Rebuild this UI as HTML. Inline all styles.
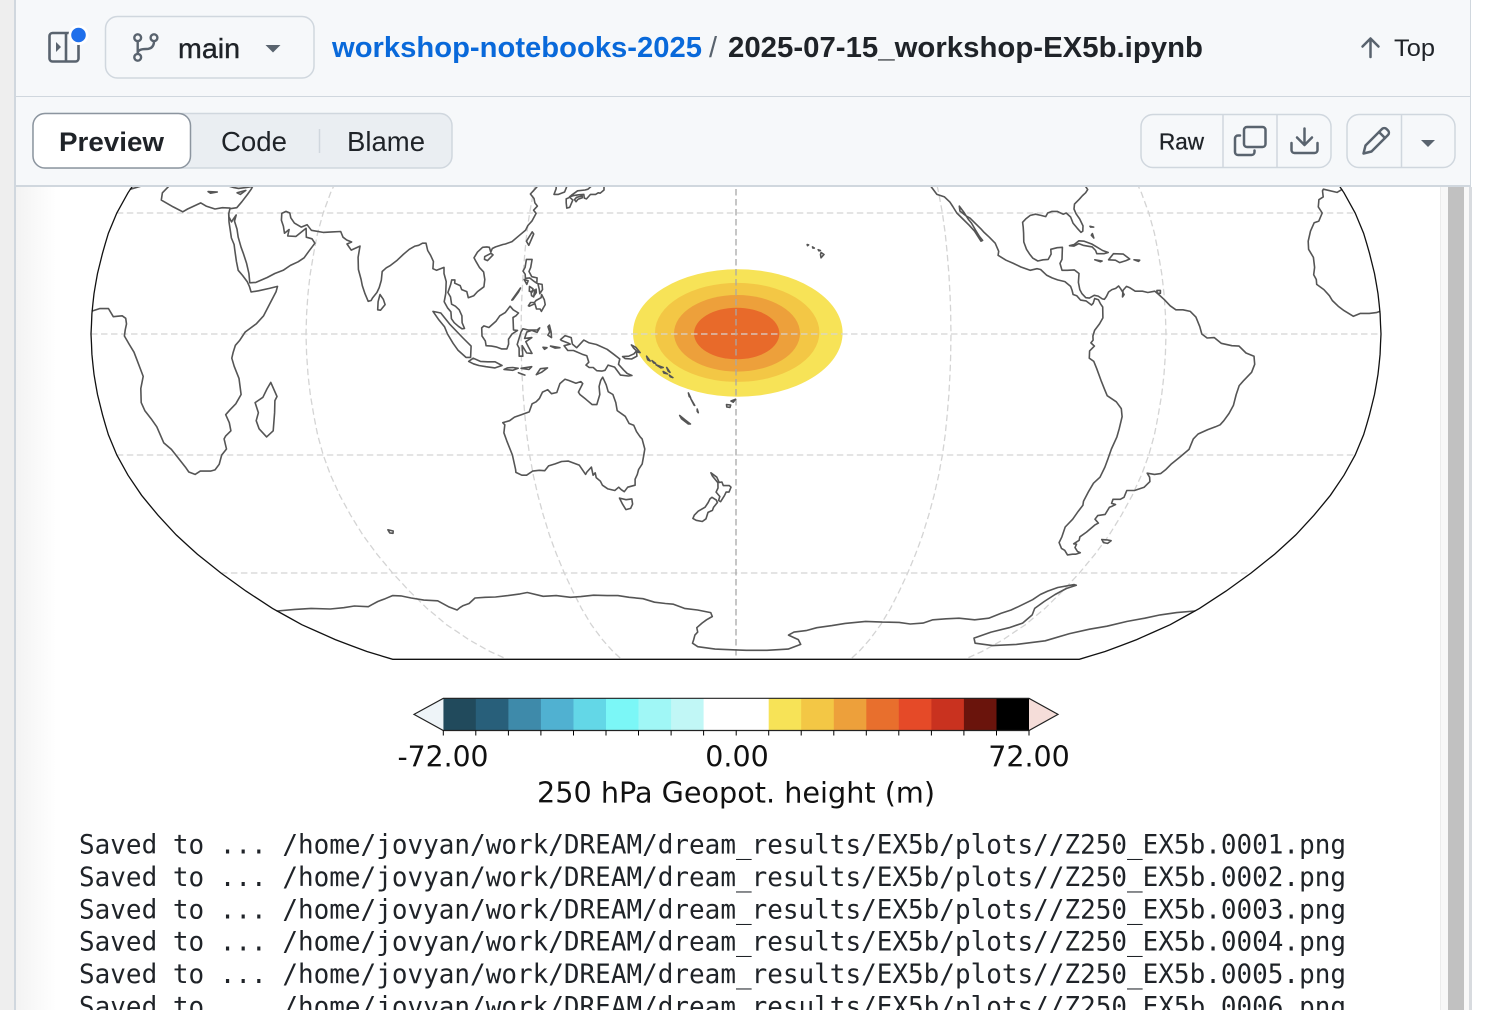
<!DOCTYPE html>
<html><head><meta charset="utf-8">
<style>
html,body{margin:0;padding:0;width:1498px;height:1010px;overflow:hidden;background:#fff;}
.abs{position:absolute;}
</style></head>
<body>
<div class="abs" style="left:0;top:0;width:14px;height:1010px;background:#eeeeee"></div>
<div class="abs" style="left:14px;top:0;width:2px;height:1010px;background:#d0d7de"></div>
<div class="abs" style="left:16px;top:187px;width:40px;height:823px;background:linear-gradient(to right,#f3f3f3,#ffffff)"></div>

<svg id="map" class="abs" style="left:0;top:0" width="1498" height="1010" xmlns="http://www.w3.org/2000/svg">
  <g id="fills">
    <ellipse cx="737.8" cy="333" rx="104.8" ry="63.7" fill="#f7e357"/>
    <ellipse cx="737.2" cy="332.4" rx="82.2" ry="49.5" fill="#f3c745"/>
    <ellipse cx="737" cy="333.3" rx="63" ry="38.3" fill="#eda03b"/>
    <ellipse cx="736.7" cy="333.5" rx="42.7" ry="25.8" fill="#e86a2a"/>
  </g>
  <g id="grid" fill="none" stroke="#d4d4d4" stroke-width="1.3" stroke-dasharray="6.5 3.5"></g>
  <line x1="736" y1="9" x2="736" y2="659.3" stroke="#a8a8a8" stroke-width="1.3" stroke-dasharray="6.5 3.5"/>
  <g id="coast" fill="none" stroke="#555555" stroke-width="1.6" stroke-linejoin="round" stroke-linecap="round"></g>
  <path id="outline" fill="none" stroke="#111" stroke-width="1.3"/>

  <!-- colorbar -->
  <g id="cbar"></g>
  <path d="M414,714.4 L443.3,698.3 L443.3,730.5 Z" fill="#eef4f8"/>
  <path d="M1058,714.4 L1029,698.3 L1029,730.5 Z" fill="#f5ddd9"/>
  <path d="M414,714.4 L443.3,698.3 L1029,698.3 L1058,714.4 L1029,730.5 L443.3,730.5 Z" fill="none" stroke="#222" stroke-width="1.2"/>
  <g id="ticks" stroke="#000" stroke-width="1"></g>
  <g font-family="DejaVu Sans, Liberation Sans, sans-serif" font-size="28.5" fill="#111" text-anchor="middle">
    <text x="443" y="766.5" textLength="91" lengthAdjust="spacingAndGlyphs">-72.00</text>
    <text x="737" y="766.5">0.00</text>
    <text x="1029" y="766.5">72.00</text>
    <text x="736" y="802.5" textLength="398" lengthAdjust="spacingAndGlyphs">250 hPa Geopot. height (m)</text>
  </g>
  <g font-family="DejaVu Sans Mono, Liberation Mono, monospace" font-size="26.3" fill="#1f2328">
    <text x="79" y="853.5" textLength="1267" lengthAdjust="spacingAndGlyphs">Saved to ... /home/jovyan/work/DREAM/dream_results/EX5b/plots//Z250_EX5b.0001.png</text>
    <text x="79" y="885.9" textLength="1267" lengthAdjust="spacingAndGlyphs">Saved to ... /home/jovyan/work/DREAM/dream_results/EX5b/plots//Z250_EX5b.0002.png</text>
    <text x="79" y="918.3" textLength="1267" lengthAdjust="spacingAndGlyphs">Saved to ... /home/jovyan/work/DREAM/dream_results/EX5b/plots//Z250_EX5b.0003.png</text>
    <text x="79" y="950.7" textLength="1267" lengthAdjust="spacingAndGlyphs">Saved to ... /home/jovyan/work/DREAM/dream_results/EX5b/plots//Z250_EX5b.0004.png</text>
    <text x="79" y="983.1" textLength="1267" lengthAdjust="spacingAndGlyphs">Saved to ... /home/jovyan/work/DREAM/dream_results/EX5b/plots//Z250_EX5b.0005.png</text>
    <text x="79" y="1015.5" textLength="1267" lengthAdjust="spacingAndGlyphs">Saved to ... /home/jovyan/work/DREAM/dream_results/EX5b/plots//Z250_EX5b.0006.png</text>
  </g>
</svg>

<!-- scrollbar -->
<div class="abs" style="left:1440px;top:187px;width:8px;height:823px;background:#f8f8f8;border-left:1px solid #ececec;box-sizing:border-box"></div>
<div class="abs" style="left:1448px;top:187px;width:16px;height:823px;background:#c1c1c1"></div>
<div class="abs" style="left:1464px;top:187px;width:5px;height:823px;background:#f8f8f8"></div>
<div class="abs" style="left:1469px;top:187px;width:3px;height:823px;background:#d8dbdf"></div>

<!-- header -->
<div class="abs" style="left:16px;top:0;width:1454px;height:185px;background:#f6f8fa;border-right:1px solid #d0d7de;border-bottom:2px solid #d0d7de"></div>
<div class="abs" style="left:16px;top:96px;width:1455px;height:1px;background:#d0d7de"></div>

<svg class="abs" style="left:0;top:0" width="1498" height="187" xmlns="http://www.w3.org/2000/svg" font-family="Liberation Sans, Arial, sans-serif">
  <!-- sidebar icon -->
  <rect x="49.5" y="33" width="29" height="28.5" rx="3" fill="none" stroke="#59636e" stroke-width="2.6"/>
  <line x1="66" y1="33" x2="66" y2="61.5" stroke="#59636e" stroke-width="2.6"/>
  <path d="M56,42 L61,47 L56,52 Z" fill="#59636e"/>
  <circle cx="78.5" cy="35" r="10" fill="#ffffff"/>
  <circle cx="78.5" cy="35" r="7.3" fill="#1f6feb"/>

  <!-- branch button -->
  <rect x="105.5" y="16.5" width="208.5" height="61.5" rx="12" fill="#f6f8fa" stroke="#d0d7de" stroke-width="1.5"/>
  <g fill="none" stroke="#59636e" stroke-width="2.4">
    <circle cx="137.7" cy="37.7" r="3.4"/>
    <circle cx="137.7" cy="57.3" r="3.4"/>
    <circle cx="154" cy="37.7" r="3.4"/>
    <line x1="137.7" y1="41.1" x2="137.7" y2="53.9"/>
    <path d="M154,41.1 Q154,49 146,49 Q138,49 137.7,53"/>
  </g>
  <text x="178" y="58" font-size="28" fill="#1f2328" stroke="#1f2328" stroke-width="0.4" textLength="62" lengthAdjust="spacingAndGlyphs">main</text>
  <path d="M265.5,45 L280.5,45 L273,52.5 Z" fill="#59636e"/>

  <!-- breadcrumb -->
  <text x="332" y="57" font-size="29" font-weight="bold" fill="#0969da" textLength="370" lengthAdjust="spacingAndGlyphs">workshop-notebooks-2025</text>
  <text x="709" y="57" font-size="29" fill="#59636e">/</text>
  <text x="728" y="57" font-size="29" font-weight="bold" fill="#1f2328" textLength="475" lengthAdjust="spacingAndGlyphs">2025-07-15_workshop-EX5b.ipynb</text>

  <!-- Top -->
  <g fill="none" stroke="#59636e" stroke-width="2.5" stroke-linecap="round" stroke-linejoin="round">
    <path d="M1370.5,57 V38.5 M1362.5,46.5 L1370.5,38.5 L1378.5,46.5"/>
  </g>
  <text x="1394" y="56" font-size="24" fill="#1f2328" textLength="41" lengthAdjust="spacingAndGlyphs">Top</text>

  <!-- segmented control -->
  <rect x="33" y="113.5" width="419" height="54.5" rx="12" fill="#eaeef2" stroke="#d0d7de" stroke-width="1.5"/>
  <rect x="33" y="113.5" width="157.5" height="54.5" rx="12" fill="#ffffff" stroke="#8c959f" stroke-width="1.5"/>
  <line x1="319.5" y1="129" x2="319.5" y2="153" stroke="#d0d7de" stroke-width="1.5"/>
  <text x="59" y="151" font-size="27" font-weight="bold" fill="#1f2328" textLength="105" lengthAdjust="spacingAndGlyphs">Preview</text>
  <text x="221" y="151" font-size="27.5" fill="#1f2328" textLength="66" lengthAdjust="spacingAndGlyphs">Code</text>
  <text x="347" y="151" font-size="27.5" fill="#1f2328" textLength="78" lengthAdjust="spacingAndGlyphs">Blame</text>

  <!-- right buttons -->
  <rect x="1141" y="114.5" width="190" height="53" rx="12" fill="#f6f8fa" stroke="#d0d7de" stroke-width="1.5"/>
  <line x1="1223" y1="114.5" x2="1223" y2="167.5" stroke="#d0d7de" stroke-width="1.5"/>
  <line x1="1277" y1="114.5" x2="1277" y2="167.5" stroke="#d0d7de" stroke-width="1.5"/>
  <text x="1159" y="149.5" font-size="23" fill="#1f2328" stroke="#1f2328" stroke-width="0.3" textLength="45" lengthAdjust="spacingAndGlyphs">Raw</text>
  <g fill="none" stroke="#59636e" stroke-width="2.5" stroke-linecap="round" stroke-linejoin="round">
    <rect x="1244" y="127" width="21.5" height="20" rx="3"/>
    <path d="M1240,135.5 H1238 A3,3 0 0 0 1235,138.5 V152 A3,3 0 0 0 1238,155 H1251.5 A3,3 0 0 0 1254.5,152 V150.5"/>
    <path d="M1291.5,143 V150 A3,3 0 0 0 1294.5,153 H1314.5 A3,3 0 0 0 1317.5,150 V143"/>
    <path d="M1304.5,128.5 V144.5 M1297,137.5 L1304.5,145 L1312,137.5"/>
  </g>
  <rect x="1347" y="114.5" width="108" height="53" rx="12" fill="#f6f8fa" stroke="#d0d7de" stroke-width="1.5"/>
  <line x1="1401.5" y1="114.5" x2="1401.5" y2="167.5" stroke="#d0d7de" stroke-width="1.5"/>
  <g fill="none" stroke="#59636e" stroke-width="2.5" stroke-linecap="round" stroke-linejoin="round">
    <path d="M1363.5,153.5 L1365.5,145.5 L1382,129 A3.2,3.2 0 0 1 1386.5,129 L1388,130.5 A3.2,3.2 0 0 1 1388,135 L1371.5,151.5 Z"/>
    <path d="M1379,132 L1385,138"/>
  </g>
  <path d="M1421,140 L1435,140 L1428,147 Z" fill="#59636e"/>
</svg>

<script>
(function(){
var XT=[1,0.9986,0.9954,0.99,0.9822,0.973,0.96,0.9427,0.9216,0.8962,0.8679,0.835,0.7986,0.7597,0.7186,0.6732,0.6213,0.5722,0.5322];
var YT=[0,0.062,0.124,0.186,0.248,0.31,0.372,0.434,0.4958,0.5571,0.6176,0.6769,0.7346,0.7903,0.8435,0.8936,0.9394,0.9761,1];
function Pd(dl,lat){var a=Math.min(Math.abs(lat),90)/5,i=Math.floor(a);if(i>=18)i=17;var f=a-i;
 var X=XT[i]+(XT[i+1]-XT[i])*f,Y=YT[i]+(YT[i+1]-YT[i])*f;
 return [736+645*X*dl/180,334-325.3*Y*(lat<0?-1:1)];}
function P(lon,lat){var dl=lon-180;while(dl<-180)dl+=360;while(dl>180)dl-=360;return Pd(dl,lat);}
function f1(v){return v.toFixed(1);}
var NS='http://www.w3.org/2000/svg';
function addPath(g,d,attrs){var p=document.createElementNS(NS,'path');p.setAttribute('d',d);if(attrs)for(var k in attrs)p.setAttribute(k,attrs[k]);g.appendChild(p);}
var d='',k,lat,pt;
for(lat=90;lat>=-90;lat-=2.5){pt=Pd(-180,lat);d+=(d?'L':'M')+f1(pt[0])+','+f1(pt[1]);}
for(lat=-90;lat<=90;lat+=2.5){pt=Pd(180,lat);d+='L'+f1(pt[0])+','+f1(pt[1]);}
d+='Z';document.getElementById('outline').setAttribute('d',d);
var g=document.getElementById('grid');
[60,30,0,-30,-60].forEach(function(la){var a=Pd(-180,la),b=Pd(180,la);addPath(g,'M'+f1(a[0])+','+f1(a[1])+'L'+f1(b[0])+','+f1(b[1]));});
[-120,-60,60,120].forEach(function(dl){var s='';for(var la=90;la>=-90;la-=2.5){var q=Pd(dl,la);s+=(s?'L':'M')+f1(q[0])+','+f1(q[1]);}addPath(g,s);});
var cols=['#214a5c','#285f7a','#3e8aaa','#50b1d1','#63d7e7','#7bf7f7','#a0f7f6','#c1f7f6','#ffffff','#ffffff','#f7e357','#f3c745','#eda03b','#e86f2d','#e54a28','#c9321f','#6a140c','#000000'];
var cb=document.getElementById('cbar'),tk=document.getElementById('ticks');
var x0=443.3,w=(1029-443.3)/18;
for(k=0;k<18;k++){var r=document.createElementNS(NS,'rect');r.setAttribute('x',f1(x0+k*w));r.setAttribute('y','698.3');r.setAttribute('width',(w+0.6).toFixed(2));r.setAttribute('height','32.2');r.setAttribute('fill',cols[k]);cb.appendChild(r);}
for(k=0;k<=18;k++){var l=document.createElementNS(NS,'line');var xx=x0+k*w;l.setAttribute('x1',f1(xx));l.setAttribute('x2',f1(xx));l.setAttribute('y1','730.5');l.setAttribute('y2','735.5');tk.appendChild(l);}
var C=[
[[0,5.7],[2,6.3],[4.5,6.3],[6,4.3],[7,4.4],[8.5,4.5],[9.5,3.9],[9.8,2.5],[9.5,1],[9.3,-0.5],[10.5,-2.5],[11.8,-4.5],[12.3,-6],[13.2,-8.8],[13.7,-10.5],[12.5,-13.5],[11.8,-17],[12.3,-19],[13.5,-21],[14.5,-23],[15,-27],[16.5,-28.6],[17.5,-31],[18.2,-33],[18.5,-34.2],[20,-34.8],[22,-34],[25,-34],[26.5,-33.7],[28.5,-32.3],[30.5,-30],[32.5,-28.5],[32.8,-26],[33.5,-25.3],[35.4,-24],[35.5,-22],[35,-20],[36.5,-18.8],[38.5,-17.3],[40.5,-15],[40.5,-11],[39.5,-8],[39,-6],[39.5,-4.5],[40.2,-2.8],[41.5,-1.5],[43,0.5],[46,2.5],[48,4.5],[49.5,7.5],[51,10.5],[51.2,11.8],[49,11.3],[46,10.7],[44,10.4],[43.3,11.8],[42.5,13],[41,14.5],[39.5,15.8],[38.5,18],[37.3,21],[36.8,22.2],[35.6,23.8],[34.5,26],[33.5,27.8],[32.6,29.8],[32.3,31.2],[30,31.3],[28,31],[25,31.7],[23,32.5],[20,31],[19,30.3],[15.5,31.5],[11,33.2],[10.2,35],[11,37],[9.5,37.3],[8,36.9],[3,36.8],[0,35.9]],
[[-0.01,35.8],[-2,35.1],[-5.4,35.9],[-6,35.5],[-6.8,34],[-8.5,33.3],[-9.8,31.5],[-9.6,30],[-11.5,28],[-13,27.6],[-15,25.5],[-16.5,23],[-17,21],[-16.2,19],[-16.5,16.5],[-17.2,14.7],[-16.7,13.5],[-16.8,12.3],[-15,11],[-13.7,9.5],[-13,8.3],[-11.5,6.9],[-10,5.8],[-7.5,4.4],[-5.5,5.1],[-3,5.1],[-1,5.3],[-0.01,5.6]],
[[27.5,37],[29,36.6],[30.5,36.3],[32,36.1],[34,36.3],[35.9,36.6],[35.9,35.9],[35.6,34.6],[34.9,32.8],[34.2,31.3],[32.6,31.1]],
[[32.6,29.9],[33,29],[34.2,27.8],[34.5,28.5],[34.9,29.5],[35,28],[36.5,26],[37.5,24],[39,21.5],[40,20],[41.5,17.5],[42.7,15],[43.3,12.7],[45,12.8],[48,14],[50,15],[52.2,15.8],[54,17],[56,17.9],[57.5,18.9],[58.5,20.5],[59.8,22.5],[58.7,23.6],[57,24],[56.3,26.2],[55.5,25.5],[54,24.2],[51.6,24.3],[51.5,25.9],[50.5,25],[49.6,26.7],[48.5,28.2],[48,29.9],[49,30.4],[50.3,30],[51,28.8],[52.5,27.5],[54.8,26.5],[56.3,27.1],[58,25.7],[61.5,25.2],[64,25.3],[66.5,25.4],[67.5,24],[68.7,23.3],[70.2,22.8],[69,22.3],[70.5,20.8],[72.8,21.8],[72.8,19],[73.4,16],[74.5,13.5],[75,12],[76,10],[77,8.1],[77.8,8.3],[78.2,9],[79.3,10.3],[79.8,11.5],[80.2,13.3],[80.2,15.5],[81.2,16.4],[82.3,17],[84,18.3],[85.5,19.7],[87,21],[88.5,21.8],[89.5,22],[90.5,22.5],[91.5,22.5],[92.3,20.7],[93.3,19.5],[94.3,18],[94.4,16.2],[95.5,15.8],[97.5,16.5],[97.7,15],[98.5,13],[98.6,10],[98.3,8],[99.3,6.5],[100.3,5.5],[100.5,3.8],[101.3,2.8],[102.5,1.9],[103.5,1.3],[104.2,1.4],[103.5,2.8],[103.4,4.5],[102.6,6],[101.5,6.9],[100.4,7.4],[100,9.2],[99.2,10.3],[99.8,12.3],[100,13.4],[100.9,13.4],[100.9,12.6],[102.5,12],[103,11],[104.5,10.5],[105,9],[106.5,9.5],[107.5,10.5],[109.2,11.7],[109.3,13.5],[108.8,15.4],[107.5,16.5],[106.5,17.8],[105.7,18.9],[106.5,20.3],[107.8,21.5],[109,21.6],[109.7,21.5],[110.3,20.3],[110.6,21.2],[111.5,21.6],[113.5,22.2],[114.2,22.3],[116,22.9],[118,24.5],[119.5,25.7],[120,26.9],[121,28],[121.9,29.9],[121,30.7],[121.9,31.7],[121,32.5],[120.5,33.6],[119.2,34.7],[120.3,36],[121,36.9],[122.5,37.2],[121,37.8],[119,37.2],[118.5,38.5]],
[[126.2,37.7],[126.5,36],[126.2,34.6],[127.5,34.6],[129.2,35.2],[129.5,36.3],[129.4,37.5],[128.5,38.6]],
[[79.8,6],[80.6,5.9],[81.8,7.3],[81.2,8.6],[80.2,9.8],[79.8,8],[79.8,6]],
[[49.3,-12],[50.5,-15.5],[49.7,-16.5],[49,-19.5],[47.5,-24],[45.2,-25.5],[43.6,-23.5],[43.3,-21.5],[44.4,-19.5],[44,-17],[46.5,-15.7],[48,-13.6],[49.3,-12]],
[[23.5,35.3],[26.3,35.2],[24.5,34.9],[23.5,35.3]],
[[32.3,35],[34.5,35.6],[33.5,34.6],[32.3,35]],
[[95.3,5.6],[97.5,5.2],[100,2.5],[103.8,-1],[106,-3],[105.8,-5.8],[104.5,-5.8],[102.3,-4],[101,-2.3],[99.5,0],[98.6,1.8],[97,3.5],[95.3,5.6]],
[[105.2,-6.8],[106.5,-6],[108.5,-6.8],[110.5,-6.9],[112.6,-6.9],[114.5,-7.8],[112.5,-8.4],[110,-8.1],[108,-7.8],[106.5,-7.4],[105.2,-6.8]],
[[115,-8.8],[116,-8.4],[117.5,-8.3],[119,-8.5],[117.5,-9],[115,-8.8]],
[[119.8,-8.5],[122.8,-8.1],[122,-8.8],[119.8,-8.5]],
[[124,-10.1],[125.2,-8.6],[127.2,-8.4],[125.5,-9.5],[124,-10.1]],
[[119,-9.6],[120.8,-10.2],[119.5,-9.8],[119,-9.6]],
[[109,1.5],[109.6,2],[111,1.6],[113,3.2],[114,4.5],[115.5,5.3],[116.8,6.9],[117.7,6],[119.2,5.2],[118.5,4.5],[117.7,4.1],[117.9,1],[119,0.9],[117.5,0],[116.5,-1.3],[116.5,-2.5],[116,-3.7],[114.5,-3.7],[113,-3.2],[111.7,-3],[110.2,-2.9],[110,-1.7],[109.1,-0.5],[109,1.5]],
[[119.4,-5.5],[120.4,-5.5],[120.3,-2.9],[121.5,-4.7],[123,-4.8],[122,-3.2],[121.3,-1.9],[123,-0.9],[121,-1.1],[121.6,0.5],[123,0.9],[124.5,0.4],[125.2,1.5],[124.5,1],[122,1],[120.5,1.3],[120,0.5],[119.8,-0.1],[118.9,-2.6],[119.4,-3.5],[119.4,-5.5]],
[[127.5,1.8],[128,0.5],[127.5,-0.3],[128.5,-0.9],[128.4,0.5],[127.9,2.2],[127.5,1.8]],
[[126.1,-3.3],[127.2,-3.4],[126.5,-3.8],[126.1,-3.3]],
[[128.2,-3],[130.8,-3.4],[129.5,-3.5],[128.2,-3]],
[[131,-1.4],[132.3,-0.4],[134,-0.9],[134.3,-2.5],[135.5,-3.4],[137.5,-1.5],[139,-2.2],[141,-2.6],[144,-3.8],[145.8,-5],[147.5,-6.2],[147.1,-7.5],[148.5,-8.9],[149.5,-9.8],[150.8,-10.3],[149.8,-10.4],[147.6,-10.2],[146,-8.2],[144.2,-7.7],[143.3,-9],[142.4,-9.2],[141,-9.1],[140,-8.3],[138.9,-8.3],[138,-7.7],[138.8,-7],[138.3,-5.4],[137,-5],[134.6,-4.1],[133,-4.1],[132,-2.9],[133.7,-2.5],[133,-2.2],[131.3,-1.6],[131,-1.4]],
[[148.3,-5.6],[150,-5.5],[151.5,-4.9],[152.2,-4.2],[152.3,-5.5],[150.8,-6.2],[149,-6.1],[148.3,-5.6]],
[[150.8,-2.7],[152,-3.3],[153.2,-4.6],[152.6,-4.5],[151.4,-3.5],[150.8,-2.7]],
[[155,-5.5],[156,-6.7],[155.3,-6.4],[155,-5.5]],
[[156.5,-6.6],[157.5,-7.3],[157,-7.2],[156.5,-6.6]],
[[157.6,-7.6],[159.6,-8.3],[159,-8.4],[157.6,-7.6]],
[[159.6,-9.3],[160.8,-9.9],[159.8,-9.7],[159.6,-9.3]],
[[160.6,-8.3],[161.5,-9.5],[161,-9.2],[160.6,-8.3]],
[[161.3,-10.2],[162.3,-10.8],[161.6,-10.6],[161.3,-10.2]],
[[166.6,-14.6],[167.2,-15.8],[166.8,-15.5],[166.6,-14.6]],
[[167.2,-16],[168.3,-17.7],[168.1,-17.6],[167.2,-16]],
[[169,-18.6],[169.3,-19.5],[169,-19.2],[169,-18.6]],
[[164,-20.2],[165.5,-21.3],[167,-22.3],[166.4,-22.3],[164.5,-21],[164,-20.2]],
[[177.3,-17.5],[178.5,-17.6],[178.3,-18.2],[177.4,-18.1],[177.3,-17.5]],
[[178.6,-16.6],[179.9,-16.2],[179.2,-16.9],[178.6,-16.6]],
[[-155.8,20.2],[-155,19.7],[-155.9,18.9],[-156,19.7],[-155.8,20.2]],
[[-156.6,20.9],[-156,20.7],[-156.4,20.6],[-156.6,20.9]],
[[-158.2,21.6],[-157.7,21.3],[-158.1,21.3],[-158.2,21.6]],
[[-159.7,22.2],[-159.3,22.1],[-159.6,21.9],[-159.7,22.2]],
[[120.6,18.5],[122.2,18.5],[122,16.5],[121.6,15.5],[122.5,14.2],[124,13.9],[124,12.6],[123.3,13],[121.9,13.9],[120.7,13.8],[120.6,14.8],[119.9,15.6],[120.4,16.5],[120.6,18.5]],
[[121.9,7],[122.5,7.8],[123.6,7.8],[124,8.3],[125.4,9],[125.5,9.8],[126.3,8.5],[126.6,7.3],[126,6.3],[125.6,5.6],[125.2,6.2],[124.2,6.2],[123.7,7.5],[122.2,6.9],[121.9,7]],
[[124.3,12.5],[125.5,12.3],[125.7,11],[125,10],[124.8,11],[124.3,12.5]],
[[122,11.8],[123,11.2],[122.8,10.4],[122,10.6],[122,11.8]],
[[122.5,10.5],[123.5,10.9],[123.3,9.2],[122.7,9.5],[122.5,10.5]],
[[123.9,11.1],[124,10.3],[123.4,9.5],[123.9,11.1]],
[[120.4,13.5],[121.5,13.2],[121.2,12.3],[120.4,13.5]],
[[117.2,8.4],[119.5,11.4],[119,10.4],[117.5,8.5],[117.2,8.4]],
[[121.5,25.3],[122,24.8],[120.9,22],[120.1,23],[121.5,25.3]],
[[108.7,19.2],[110.4,20],[111,19.6],[109.6,18.2],[108.7,18.5],[108.7,19.2]],
[[130,33.5],[131,33.9],[132,33.2],[131.4,31.4],[130.6,31.2],[130.2,32.5],[130,33.5]],
[[132.5,33.3],[133,33.9],[134.6,34.2],[134.7,33.8],[133.5,33.4],[133,32.8],[132.5,33.3]],
[[130.9,34],[132,34.3],[133.5,34.5],[135,34.6],[135.3,33.7],[136,33.5],[137,34.6],[138.5,34.6],[139.2,35],[139.8,34.9],[140.8,35.7],[140.6,36.8],[141,38],[140,38],[139.5,38],[138.5,37.2],[137,36.8],[136,35.9],[135.2,35.7],[133,35.5],[131.4,34.4],[130.9,34]],
[[113.5,-22],[114,-22.5],[113.5,-24.5],[114,-26.5],[115,-30],[115.1,-33.6],[115,-34.3],[116.6,-35],[118,-35],[120,-34],[122,-33.8],[123.6,-33.9],[125,-32.7],[127,-32.2],[129,-31.6],[131,-31.5],[132.5,-32],[134,-32.5],[135.5,-34.8],[136,-34.2],[137.5,-33],[137.7,-35],[138.4,-34.4],[138.5,-35.6],[139.6,-36.5],[140,-37.5],[141.5,-38.4],[143.5,-38.8],[144.8,-38],[145.5,-38.6],[146.3,-39.1],[147.5,-38],[149.8,-37.5],[150,-36],[150.8,-34.8],[151.3,-33.6],[152.5,-32.2],[153.1,-30.3],[153.6,-28.5],[153,-26],[152.5,-25.5],[151.5,-24.2],[150.8,-22.6],[149.5,-22.2],[148.5,-20.4],[146.3,-19],[146,-17],[145.3,-15],[144,-14.3],[143.5,-12.6],[142.6,-10.7],[142,-11.5],[141.5,-13],[141.6,-15],[140.6,-17.5],[139.3,-17.5],[137.6,-16.2],[136,-15],[135.6,-14.4],[136.9,-12.3],[136.4,-11.8],[135,-12.2],[133,-11.5],[132,-11.2],[130.5,-12.3],[129.5,-14.5],[128,-14.8],[127,-13.8],[125.5,-14.4],[124.5,-16],[123.5,-16.8],[122.3,-17.3],[121.3,-19.3],[119,-20],[117,-20.6],[115.5,-21.5],[114.3,-21.8],[113.5,-22]],
[[144.6,-40.7],[146.5,-41.1],[148.3,-40.9],[148.3,-42.2],[147.5,-43.3],[146,-43.6],[145.2,-42.2],[144.6,-40.7]],
[[172.6,-34.4],[174.3,-35.5],[175,-36.8],[175.8,-36.7],[176.2,-37.6],[178,-37.6],[178.5,-38],[177.9,-39.2],[177,-39.2],[176.5,-40.1],[175.3,-41.6],[174.7,-41.3],[175.1,-40.3],[174,-39.2],[174.6,-38.2],[174.6,-36.9],[173,-35.2],[172.6,-34.4]],
[[172.7,-40.5],[174,-41.2],[174.3,-41.8],[173.1,-43],[172.7,-43.8],[171.3,-44.3],[170.6,-45.9],[169.4,-46.6],[167.5,-46.3],[166.5,-45.8],[167,-45],[168.3,-44],[170.5,-43],[171.5,-41.8],[172.1,-40.9],[172.7,-40.5]],
[[69,-48.7],[70.5,-49],[70,-49.6],[69,-49.5],[69,-48.7]],
[[0,-70.8],[8,-70.3],[15,-70],[22,-70.2],[28,-69.8],[33,-69.3],[38,-69.5],[40,-69],[44,-68],[48,-67.2],[52,-66.3],[55,-66.4],[58,-67],[62,-67.6],[67,-67.8],[69,-69.5],[71,-70.5],[73,-69.8],[75,-69.2],[78,-68.6],[82,-67],[86,-66.8],[90,-66.7],[95,-66.3],[100,-65.8],[103,-65.4],[108,-66.5],[113,-66.3],[118,-66.8],[122,-66.6],[127,-66.2],[132,-66.3],[136,-66.3],[140,-66.8],[145,-67.2],[149,-68.2],[153,-68.6],[156,-68.8],[160,-70],[165,-70.5],[170,-71.3],[170.5,-72.5],[168,-73.5],[166,-74.5],[163.5,-76],[163.5,-77.5],[162,-78.5],[161,-80],[160,-81.5],[162,-83],[170,-84],[180,-84.3],[-175,-84.5],[-165,-84.5],[-155,-84],[-150,-82],[-152,-80],[-157,-78.5],[-155,-77.5],[-150,-77],[-146,-76],[-140,-75.3],[-135,-74.6],[-127,-74],[-120,-74.2],[-113,-74.3],[-108,-74.8],[-103,-74.5],[-100,-73.5],[-95,-73.2],[-90,-73],[-83,-73.5],[-78,-73],[-75,-71.5],[-72.5,-70.5],[-71,-69.5],[-68,-67.5],[-67,-66],[-65.5,-65],[-63,-64],[-58,-63.2],[-57,-63.4],[-59.5,-64.3],[-61.5,-66],[-63,-68],[-64,-70],[-62,-72],[-62,-74.5],[-65,-76],[-70,-77.5],[-74,-79.5],[-70,-81.5],[-60,-82.5],[-50,-82],[-40,-80.5],[-35,-78],[-30,-76.5],[-25,-75.5],[-20,-74],[-15,-73],[-11,-72],[-6,-71.3],[-0.01,-70.8]],
[[-61.3,-51.2],[-59.5,-51.3],[-58,-51.5],[-58.5,-52.2],[-60,-52],[-61.3,-51.2]],
[[-121.9,36.6],[-120.6,34.6],[-118.5,34],[-117.2,32.7],[-116.6,31.6],[-115.8,30],[-114.3,28.5],[-112.8,27],[-111.5,25.5],[-110,23],[-109.5,23.2],[-110.3,24.2],[-111.2,25.8],[-112,27.5],[-112.8,28.5],[-113.6,30],[-114.7,31.7],[-114.8,30.5],[-113.3,29.3],[-112.2,28.7],[-111,27.5],[-109.5,26],[-108.8,25.2],[-107.5,24],[-106,22.5],[-105.3,20.5],[-105.6,19.5],[-103.5,18.3],[-101.5,17.5],[-99.5,16.6],[-97,15.8],[-95,16.2],[-94,16],[-92.5,14.6],[-91,13.9],[-89.5,13.4],[-87.5,13],[-86,11.8],[-85.7,10.8],[-85.5,9.8],[-84.5,9.5],[-83.5,8.4],[-82,8.2],[-80.5,7.2],[-80,7.6],[-79.5,8.8],[-78.5,8.5],[-78,7.5],[-77.4,6.7],[-77.5,4],[-78.5,2.5],[-79.9,0.9],[-80.4,-0.5],[-80.3,-1.5],[-80.9,-2.2],[-79.9,-3],[-81.2,-4.2],[-81.2,-6],[-79.9,-6.8],[-79,-8.5],[-77.5,-11.5],[-76.3,-13.6],[-75.3,-15.3],[-72.5,-16.8],[-70.8,-18.5],[-70.2,-20.5],[-70.4,-23.5],[-70.6,-25.5],[-71.3,-28.5],[-71.5,-31],[-71.6,-33],[-72,-35.5],[-73.2,-37],[-73.7,-39],[-73.9,-41.5],[-73.5,-42.5],[-74,-44],[-74.5,-46],[-75.5,-48],[-74.8,-50.5],[-74.5,-52],[-72.5,-53.5],[-71,-54],[-69,-55.2],[-67.5,-55],[-66.5,-55],[-65.3,-54.6],[-66.5,-54.3],[-68.2,-53.3],[-68.5,-52.4],[-69.5,-52.3],[-68.5,-51.4],[-69,-50.5],[-67.8,-49.3],[-66.5,-47.5],[-65.7,-47],[-67.5,-46],[-67.3,-45.1],[-65.2,-44.8],[-65,-43],[-64.3,-42.7],[-63.6,-42.3],[-65,-42],[-65.2,-41],[-63,-41],[-62.2,-40.5],[-62.3,-38.8],[-60,-38.8],[-57.5,-38],[-56.6,-36.6],[-57.3,-35.5],[-58.5,-34.5],[-56.2,-34.8],[-54.5,-34.6],[-53.5,-33.7],[-52.5,-32.3],[-50.7,-30.5],[-48.8,-28.6],[-48.5,-26],[-47.5,-24.8],[-45,-23.7],[-43,-23],[-41.8,-22.5],[-41,-21.5],[-40,-19.7],[-39.2,-17.7],[-39,-15],[-38.5,-12.8],[-37.4,-11.5],[-35.5,-9.5],[-34.8,-7.5],[-35.2,-5.5],[-37.5,-4.7],[-39.5,-3],[-41.5,-2.9],[-44.5,-2.3],[-46.5,-0.9],[-48.5,-1],[-50,0],[-50.5,1.8],[-51.5,4.2],[-53,5.6],[-55,6],[-57,6],[-58.5,7],[-60,8.5],[-61.5,9.8],[-62.5,10.6],[-64.5,10.3],[-66,10.6],[-68,10.6],[-69.5,11.5],[-70.3,11.8],[-71.4,10.8],[-71.7,9.2],[-71.2,9.8],[-72,11.2],[-72.5,11.9],[-73.4,11.3],[-74.5,11],[-75.5,10.4],[-76.2,9.3],[-76.8,8.6],[-77.4,8.7],[-78.5,9.4],[-79.6,9.6],[-81,8.9],[-82,9],[-83,10],[-83.5,11],[-83.7,12.8],[-83.3,15],[-84.5,15.9],[-86.5,15.8],[-88,15.8],[-88.3,17.5],[-87.6,18.5],[-87,21.5],[-88.5,21.4],[-90.4,21],[-90.5,19.8],[-91.5,18.5],[-93,18.4],[-94.5,18.1],[-95.8,18.8],[-96.6,19.8],[-97.3,21],[-97.8,22.8],[-97.5,25],[-97.3,26.5],[-97.2,27.7],[-96,28.6],[-94.6,29.4],[-93,29.7],[-91.5,29.4],[-90.2,29.1],[-89.4,30],[-88,30.4],[-86.5,30.4],[-85,29.7],[-84,30],[-83,29],[-82.7,27.5],[-81.8,26.2],[-81,25.2],[-80.4,25.5],[-80,26.8],[-80.5,28.5],[-81.2,29.8],[-81.4,31],[-80.8,32.2],[-79,33.4],[-77.7,34.3],[-76.5,35],[-75.5,35.8],[-75.9,36.9]],
[[-84.9,21.9],[-83.5,22.2],[-82,23.1],[-80.5,23],[-78.5,22.3],[-77.2,21.6],[-75.7,20.7],[-74.2,20.2],[-75.5,19.9],[-77.5,19.9],[-77.7,20.7],[-78.5,21.6],[-81,22],[-82.2,22.4],[-83.7,21.8],[-84.9,21.9]],
[[-74.4,18.4],[-72.8,19.9],[-70,19.8],[-68.4,18.6],[-69.5,18.2],[-71.4,17.7],[-72.5,18.3],[-74.4,18.4]],
[[-78.3,18.4],[-76.3,18.1],[-76.8,17.9],[-78.3,18.4]],
[[-67.2,18.4],[-65.6,18.3],[-66,18],[-67.2,18.4]],
[[-78,26.7],[-77,26.5],[-77.9,26.5],[-78,26.7]],
[[-78.2,24.5],[-77.6,23.8],[-77.8,24.9],[-78.2,24.5]],
[[-61.9,10.8],[-60.9,10.8],[-61,10.1],[-61.9,10.1],[-61.9,10.8]]
];
var cg=document.getElementById('coast');
var all='';
C.forEach(function(pts){var s='';pts.forEach(function(p,i){var q=P(p[0],p[1]);s+=(i?'L':'M')+f1(q[0])+','+f1(q[1]);});
 var a=pts[0],b=pts[pts.length-1];if(a[0]===b[0]&&a[1]===b[1])s+='Z';all+=s;});
addPath(cg,all);
})();
</script>
</body></html>
